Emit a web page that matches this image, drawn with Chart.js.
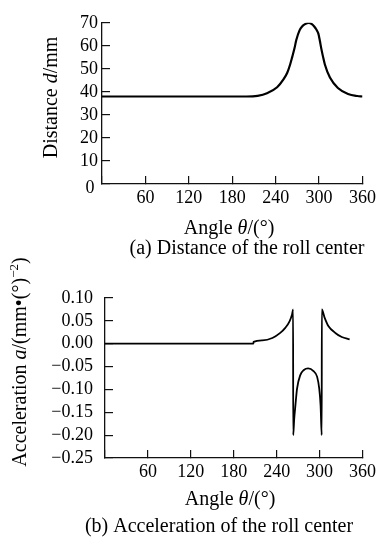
<!DOCTYPE html>
<html>
<head>
<meta charset="utf-8">
<script src="https://cdn.jsdelivr.net/npm/chart.js@4.4.0/dist/chart.umd.min.js"></script>
<style>
  html, body { margin: 0; padding: 0; background: #fff; }
  .wrap { position: relative; width: 387px; height: 545px; }
  .wrap canvas { position: absolute; left: 0; top: 0; }
</style>
</head>
<body>
<div class="wrap">
  <canvas id="distChart" width="387" height="545"></canvas>
  <canvas id="accChart" width="387" height="545"></canvas>
</div>
<script>
// tick labels
const angleTicks = [0, 60, 120, 180, 240, 300, 360];
const distanceTicks = [0, 10, 20, 30, 40, 50, 60, 70];
const accelTicks = [-0.25, -0.20, -0.15, -0.10, -0.05, 0, 0.05, 0.10];

// (a) distance of the roll center, mm
const distAngles = [0, 60, 120, 180, 200, 215, 228, 242, 251, 256, 260, 263, 266, 268.5, 273, 276.5, 280, 286, 290, 293, 296, 299, 301, 303, 305.5, 308, 315, 326, 340, 353, 360];
const distValues = [38, 38, 38, 38, 38, 38.3, 39.4, 42, 45.5, 48.3, 51.9, 55.3, 58.9, 62.5, 66.7, 68.4, 69.3, 70, 69.4, 68.5, 67.2, 65.3, 62.3, 58.9, 55.2, 51.9, 46.2, 41.7, 39.1, 38.2, 38];

// (b) acceleration of the roll center
const accAngles = [0, 60, 120, 180, 207.5, 207.7, 220, 234, 245, 252, 258, 261.5, 263, 263.1, 264.5, 266.2, 268.5, 273, 278, 284, 291.5, 296.5, 299.5, 301.4, 303, 303.1, 307, 312.5, 322, 331, 342];
const accValues = [0, 0, 0, 0, 0, 0.004, 0.0074, 0.0125, 0.0236, 0.0346, 0.049, 0.064, 0.075, -0.20, -0.165, -0.135, -0.098, -0.0686, -0.0575, -0.054, -0.06, -0.072, -0.098, -0.135, -0.20, 0.075, 0.057, 0.038, 0.0236, 0.0147, 0.0095];

const serif = '"Liberation Serif", "Times New Roman", serif';

function drawRich(ctx, parts, x, y, rot, size) {
  ctx.save();
  ctx.translate(x, y);
  ctx.rotate(rot);
  ctx.fillStyle = '#000';
  ctx.textBaseline = 'middle';
  ctx.textAlign = 'left';
  const fontOf = p => (p.it ? 'italic ' : '') + (p.sup ? Math.round(size * 0.65) : size) + 'px ' + serif;
  let w = 0;
  parts.forEach(p => { ctx.font = fontOf(p); w += ctx.measureText(p.t).width; });
  let cx = -w / 2;
  parts.forEach(p => {
    ctx.font = fontOf(p);
    ctx.fillText(p.t, cx, p.sup ? -size * 0.33 : 0);
    cx += ctx.measureText(p.t).width;
  });
  ctx.restore();
}

// axis titles and captions drawn with mixed italic text
function labelPlugin(items) {
  return {
    id: 'labelPlugin',
    afterDraw(chart) {
      const ca = chart.chartArea;
      items.forEach(it => {
        const [x, y] = it.at(ca);
        drawRich(chart.ctx, it.parts, x, y, it.rot || 0, it.size);
      });
    }
  };
}

function axisStyle() {
  return {
    grid: { display: true, drawOnChartArea: false, drawTicks: true, tickLength: -8, color: '#111', lineWidth: 1.2 },
    border: { display: true, color: '#111', width: 1.3 }
  };
}

function makeChart(id, xs, ys, cfg) {
  return new Chart(id, {
    type: 'line',
    data: {
      datasets: [{
        data: xs.map((x, i) => ({ x: x, y: ys[i] })),
        borderColor: '#000',
        borderWidth: cfg.lineWidth,
        pointRadius: 0,
        cubicInterpolationMode: 'monotone',
        fill: false
      }]
    },
    options: {
      responsive: false,
      animation: false,
      layout: { padding: cfg.padding },
      plugins: { legend: { display: false }, tooltip: { enabled: false } },
      scales: {
        x: Object.assign(axisStyle(), {
          type: 'linear',
          min: 0, max: 360,
          afterBuildTicks: s => { s.ticks = angleTicks.map(v => ({ value: v })); },
          afterFit: s => { s.height = 30; },
          ticks: {
            autoSkip: false, maxRotation: 0, padding: cfg.xPad, color: '#000',
            font: { family: serif, size: 18 },
            callback: v => (v === 0 ? '' : String(v))
          }
        }),
        y: Object.assign(axisStyle(), {
          type: 'linear',
          min: cfg.yTicks[0], max: cfg.yTicks[cfg.yTicks.length - 1],
          afterBuildTicks: s => { s.ticks = cfg.yTicks.map(v => ({ value: v })); },
          afterFit: s => { s.width = cfg.yWidth; },
          ticks: {
            autoSkip: false, padding: cfg.yPad, color: '#000',
            font: { family: serif, size: 18 },
            callback: cfg.yFmt
          }
        })
      }
    },
    plugins: [labelPlugin(cfg.labels)]
  });
}

makeChart('distChart', distAngles, distValues, {
  lineWidth: 2.2,
  yTicks: distanceTicks,
  yWidth: 102,
  padding: { left: 0, top: 19, right: 14, bottom: 331 },
  xPad: 11, yPad: 12,
  yFmt: v => (v === 0 ? '' : String(v)),
  labels: [
    { at: ca => [ca.left - 12, ca.bottom + 4], parts: [{ t: '0' }], size: 18 },
    { at: ca => [ca.left - 50, (ca.top + ca.bottom) / 2 - 6], rot: -Math.PI / 2, size: 20,
      parts: [{ t: 'Distance ' }, { t: 'd', it: true }, { t: '/mm' }] },
    { at: ca => [ca.left + 127, ca.bottom + 45], size: 20,
      parts: [{ t: 'Angle ' }, { t: 'θ', it: true }, { t: '/(°)' }] },
    { at: ca => [ca.left + 145, ca.bottom + 65], size: 20,
      parts: [{ t: '(a) Distance of the roll center' }] }
  ]
});

makeChart('accChart', accAngles, accValues, {
  lineWidth: 1.8,
  yTicks: accelTicks,
  yWidth: 105,
  padding: { left: 0, top: 298, right: 23, bottom: 57 },
  xPad: 11, yPad: 20,
  yFmt: v => v.toFixed(2).replace('-', '−'),
  labels: [
    { at: ca => [ca.left - 84, (ca.top + ca.bottom) / 2 - 16], rot: -Math.PI / 2, size: 20,
      parts: [{ t: 'Acceleration ' }, { t: 'a', it: true }, { t: '/(mm•(°)' }, { t: '−2', sup: true }, { t: ')' }] },
    { at: ca => [ca.left + 125, ca.bottom + 42], size: 20,
      parts: [{ t: 'Angle ' }, { t: 'θ', it: true }, { t: '/(°)' }] },
    { at: ca => [ca.left + 114, ca.bottom + 69], size: 20,
      parts: [{ t: '(b) Acceleration of the roll center' }] }
  ]
});
</script>
</body>
</html>
